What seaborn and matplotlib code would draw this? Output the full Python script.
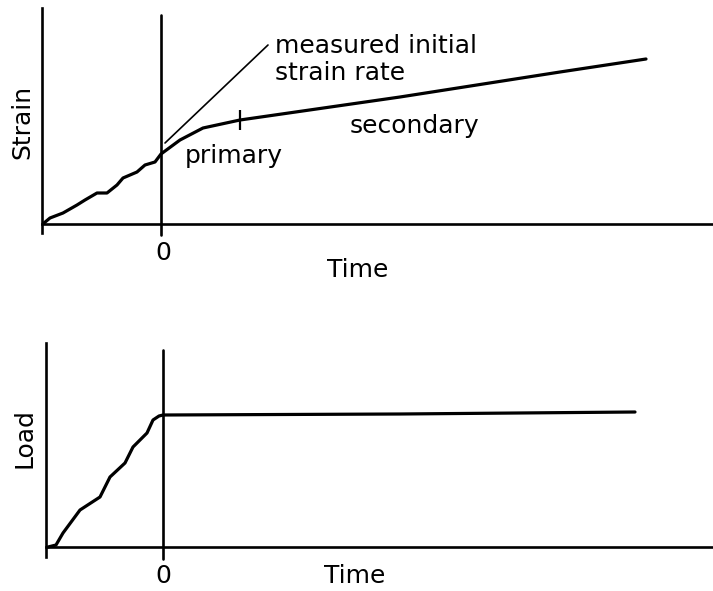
import numpy as np
import pandas as pd
import seaborn as sns
import matplotlib.pyplot as plt

strain_t = [-1.17, -1.11, -0.98, -0.84, -0.76, -0.64, -0.54, -0.44, -0.38, -0.24,
            -0.16, -0.06, 0.00, 0.19, 0.42, 0.79, 2.39, 3.99, 4.85]
strain_s = [0.01, 0.06, 0.11, 0.19, 0.24, 0.31, 0.31, 0.39, 0.46, 0.52,
            0.59, 0.62, 0.70, 0.84, 0.96, 1.04, 1.27, 1.52, 1.65]

# Tangente: velocidad de deformacion inicial medida
rate_t = [0.04, 1.07]
rate_s = [0.81, 1.79]

# Limite primario / secundario
boundary_t = [0.79]
boundary_s = [1.04]

# Curva de carga (tiempo, carga)
load_t = [-1.15, -1.07, -1.00, -0.83, -0.63, -0.53, -0.38, -0.30, -0.16, -0.10,
          -0.04, 0.00, 2.37, 4.72]
load_l = [0.00, 0.02, 0.14, 0.37, 0.50, 0.70, 0.84, 1.00, 1.14, 1.27,
          1.31, 1.32, 1.33, 1.35]

sns.set_style('white')
plt.rcParams['font.family'] = ['DejaVu Sans']
plt.rcParams['text.color'] = 'black'
FS = 18
curve_kw = dict(color='black', lw=2.3, estimator=None,
                solid_joinstyle='round', solid_capstyle='round')

fig = plt.figure(figsize=(7.13, 5.91), dpi=100)
W, H = 713, 591

def px_axes(x0, y0, x1, y1):
    return fig.add_axes([x0 / W, 1 - y1 / H, (x1 - x0) / W, (y1 - y0) / H])

def style(ax):
    for side in ['top', 'right']:
        ax.spines[side].set_visible(False)
    for side in ['left', 'bottom']:
        ax.spines[side].set_linewidth(1.9)
        ax.spines[side].set_color('black')
    ax.spines['bottom'].set_position(('data', 0))
    ax.set_xticks([])
    ax.set_yticks([])
    ax.set_xlabel('')
    ax.set_ylabel('')

# ---- panel superior: deformacion ----
ax1 = px_axes(42, 8, 713, 233)
ax1.set_xlim(-1.19, 5.52)
ax1.set_ylim(-0.09, 2.16)
sns.lineplot(x=strain_t, y=strain_s, ax=ax1, **curve_kw)
sns.lineplot(x=rate_t, y=rate_s, ax=ax1, color='black', lw=1.2, estimator=None)
ax1.plot(boundary_t, boundary_s, marker='|', ms=14, mew=1.6, color='black', ls='none')
ax1.axvline(0, ymin=-0.01, ymax=0.97, color='black', lw=1.9, clip_on=False)
style(ax1)
ax1.text(0.02, -0.36, '0', ha='center', va='baseline', fontsize=FS)
ax1.text(1.97, -0.53, 'Time', ha='center', va='baseline', fontsize=FS, clip_on=False)
ax1.text(-1.39, 1.02, 'Strain', ha='center', va='center', rotation=90, fontsize=FS)
ax1.text(1.14, 1.71, 'measured initial', ha='left', va='baseline', fontsize=FS)
ax1.text(1.14, 1.44, 'strain rate', ha='left', va='baseline', fontsize=FS)
ax1.text(0.73, 0.61, 'primary', ha='center', va='baseline', fontsize=FS)
ax1.text(2.53, 0.91, 'secondary', ha='center', va='baseline', fontsize=FS)

# ---- panel inferior: carga ----
ax2 = px_axes(46, 343, 713, 557)
ax2.set_xlim(-1.17, 5.50)
ax2.set_ylim(-0.10, 2.04)
sns.lineplot(x=load_t, y=load_l, ax=ax2, **curve_kw)
ax2.axvline(0, ymin=-0.01, ymax=0.967, color='black', lw=1.9, clip_on=False)
style(ax2)
ax2.text(0.0, -0.36, '0', ha='center', va='baseline', fontsize=FS)
ax2.text(1.92, -0.36, 'Time', ha='center', va='baseline', fontsize=FS)
ax2.text(-1.38, 1.09, 'Load', ha='center', va='center', rotation=90, fontsize=FS)

fig.savefig('out.png', dpi=100)
